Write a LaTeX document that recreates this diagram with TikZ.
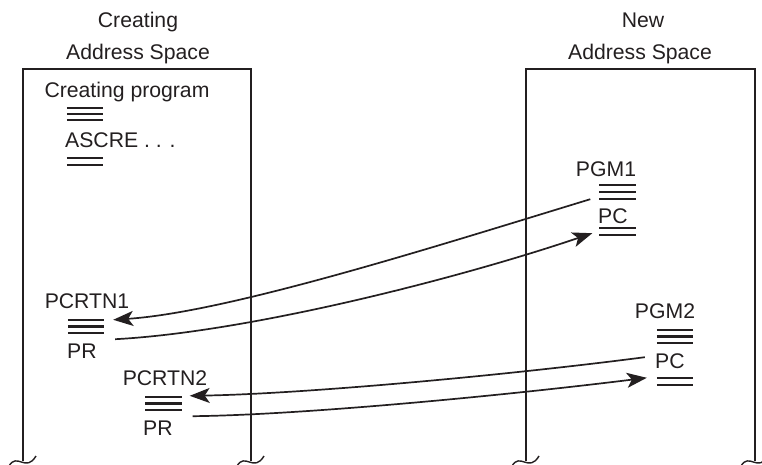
\documentclass[tikz,border=0pt]{standalone}
\usepackage{fontspec}
\setmainfont{Liberation Sans}
\usetikzlibrary{arrows.meta,calc}
\definecolor{ink}{RGB}{35,31,32}
\newcommand\stackthree[1]{\draw[rule] (#1.north west)--(#1.north east) (#1.west)--(#1.east) (#1.south west)--(#1.south east);}
\newcommand\stacktwo[1]{\draw[rule] (#1.north west)--(#1.north east) (#1.south west)--(#1.south east);}
\begin{document}
\begin{tikzpicture}[x=1pt,y=-1pt,
  lbl/.style={font=\fontsize{21.2}{25}\selectfont, text=ink, inner sep=0pt},
  stk/.style={inner sep=0pt, minimum width=36pt},
  rule/.style={draw=ink, line width=2.1pt},
  wall/.style={draw=ink, line width=1.5pt},
  conn/.style={draw=ink, line width=1.7pt},
  tip/.style={-{Stealth[length=20pt,width=15pt,inset=5pt]}},
  wave/.style={draw=ink, line width=1.4pt}]
\useasboundingbox (0,0) rectangle (762,465);
% walls
\draw[wall] (23,461) -- (23,69) -- (251,69) -- (251,461);
\draw[wall] (526,461) -- (526,69) -- (755,69) -- (755,461);
\foreach \x in {23,251,526,755}{
  \draw[wave] (\x-14,466) .. controls (\x-6,452) and (\x+3,473) .. (\x+13,456);
}
% titles
\node[lbl, anchor=base] (t1) at (138,28) {Creating};
\node[lbl, anchor=base] (t2) at (138,60) {Address Space};
\node[lbl, anchor=base] (t3) at (643,28) {New};
\node[lbl, anchor=base] (t4) at (640,60) {Address Space};
% left contents
\node[lbl, anchor=base] (cp) at (127,98) {Creating program};
\node[stk, minimum height=12pt] (s1) at (85,114) {};
\stackthree{s1}
\node[lbl, anchor=base west] (as) at (65,148) {ASCRE . . .};
\node[stk, minimum height=7pt] (s2) at (85,161.5) {};
\stacktwo{s2}
\node[lbl, anchor=base] (r1) at (87,308) {PCRTN1};
\node[stk, minimum height=13pt] (s5) at (86,326.5) {};
\stackthree{s5}
\node[lbl, anchor=base west] (pr1) at (67,358) {PR};
\node[lbl, anchor=base] (r2) at (165,385) {PCRTN2};
\node[stk, minimum height=13pt] (s6) at (163.5,403.5) {};
\stackthree{s6}
\node[lbl, anchor=base west] (pr2) at (143,435) {PR};
% right contents
\node[lbl, anchor=base] (g1) at (606,176) {PGM1};
\node[stk, minimum height=14pt] (s3) at (617.5,192) {};
\stackthree{s3}
\node[lbl, anchor=base west] (pc1) at (598,223) {PC};
\node[stk, minimum height=7pt] (s4) at (617.5,231.5) {};
\stacktwo{s4}
\node[lbl, anchor=base] (g2) at (665,318) {PGM2};
\node[stk, minimum height=13pt] (s7) at (675,336.5) {};
\stackthree{s7}
\node[lbl, anchor=base west] (pc2) at (655,368) {PC};
\node[stk, minimum height=7pt] (s8) at (675,381.5) {};
\stacktwo{s8}
% connectors
\draw[conn, tip] ($(s3.south west)+(-9,0)$) .. controls (440,245) and (230,312) .. ($(s5.north east)+(9,0)$);
\draw[conn, tip] ($(s5.south east)+(11,6)$) .. controls (250,332) and (460,278) .. ($(s4.south west)+(-7,-2)$);
\draw[conn, tip] ($(s7.south west)+(-12,14)$) .. controls (500,376) and (300,394) .. ($(s6.north east)+(8,-1)$);
\draw[conn, tip] ($(s6.south east)+(11,6)$) .. controls (300,415) and (500,396) .. ($(s8.north west)+(-10,0)$);
\end{tikzpicture}
\end{document}
